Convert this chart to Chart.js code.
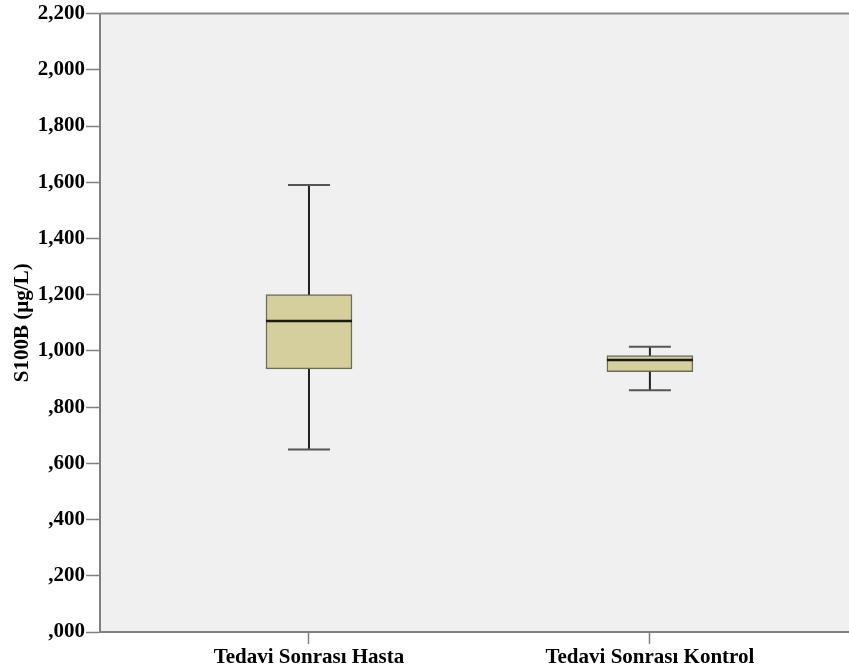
<!DOCTYPE html>
<html>
<head>
<meta charset="utf-8">
<script src="https://cdn.jsdelivr.net/npm/chart.js@4"></script>
<style>
  body { margin: 0; background: #fff; }
  #wrap { width: 849px; height: 671px; }
</style>
</head>
<body>
<div id="wrap"><canvas id="myChart"></canvas></div>
<script>
const categories = ['Tedavi Sonrası Hasta', 'Tedavi Sonrası Kontrol'];
const mins = [0.649, 0.860];
const q1s = [0.936, 0.926];
const medians = [1.106, 0.968];
const q3s = [1.200, 0.983];
const maxs = [1.590, 1.015];
const yTicks = [0, 0.2, 0.4, 0.6, 0.8, 1.0, 1.2, 1.4, 1.6, 1.8, 2.0, 2.2];

const serif = '"Liberation Serif", "Times New Roman", serif';

// ",200" / "1,000" style labels
function fmt(v) {
  let s = v.toFixed(3).replace('.', ',');
  if (s.startsWith('0')) s = s.slice(1);
  return s;
}

// background, top border, whiskers and medians
const boxPlot = {
  id: 'boxPlot',
  beforeDraw(chart) {
    const { ctx, chartArea: a } = chart;
    ctx.save();
    ctx.fillStyle = '#f0f0f0';
    ctx.fillRect(a.left, a.top, a.right - a.left, a.bottom - a.top);
    ctx.restore();
  },
  afterDatasetsDraw(chart) {
    const { ctx, chartArea: a } = chart;
    const xs = chart.scales.x, ys = chart.scales.y;
    ctx.save();
    ctx.strokeStyle = '#8a8a8a';
    ctx.lineWidth = 2;
    ctx.beginPath();
    ctx.moveTo(a.left, a.top);
    ctx.lineTo(a.right, a.top);
    ctx.stroke();

    categories.forEach((c, i) => {
      const x = xs.getPixelForValue(i);
      const yMin = ys.getPixelForValue(mins[i]);
      const yMax = ys.getPixelForValue(maxs[i]);
      const yQ1 = ys.getPixelForValue(q1s[i]);
      const yQ3 = ys.getPixelForValue(q3s[i]);
      const yMed = ys.getPixelForValue(medians[i]);

      ctx.strokeStyle = '#222';
      ctx.lineWidth = 2;
      ctx.beginPath();
      ctx.moveTo(x, yMax); ctx.lineTo(x, yQ3);
      ctx.moveTo(x, yQ1); ctx.lineTo(x, yMin);
      ctx.stroke();

      ctx.strokeStyle = '#555';
      ctx.beginPath();
      ctx.moveTo(x - 21, yMax); ctx.lineTo(x + 21, yMax);
      ctx.moveTo(x - 21, yMin); ctx.lineTo(x + 21, yMin);
      ctx.stroke();

      ctx.strokeStyle = '#1a1a1a';
      ctx.lineWidth = 2.5;
      ctx.beginPath();
      ctx.moveTo(x - 43, yMed); ctx.lineTo(x + 43, yMed);
      ctx.stroke();
    });
    ctx.restore();
  }
};

const ctx = document.getElementById('myChart');

new Chart(ctx, {
  type: 'bar',
  data: {
    datasets: [{
      data: categories.map((c, i) => ({ x: i, y: [q1s[i], q3s[i]] })),
      backgroundColor: '#d4cf9c',
      borderColor: '#6e6c58',
      borderWidth: 1.5,
      borderSkipped: false,
      barThickness: 86
    }]
  },
  options: {
    responsive: true,
    maintainAspectRatio: false,
    animation: false,
    layout: { padding: { top: 13, right: 0, left: 0, bottom: 0 } },
    plugins: {
      legend: { display: false },
      tooltip: { enabled: false }
    },
    scales: {
      x: {
        type: 'linear',
        offset: false,
        min: -0.613,
        max: 1.584,
        afterBuildTicks: scale => {
          scale.ticks = categories.map((c, i) => ({ value: i }));
        },
        afterFit: scale => { scale.height = 39; },
        border: { color: '#808080', width: 2 },
        grid: {
          offset: false,
          drawOnChartArea: false,
          drawTicks: true,
          tickLength: 12,
          tickColor: '#808080',
          tickWidth: 1.5
        },
        ticks: {
          padding: 1,
          maxRotation: 0,
          autoSkip: false,
          color: '#000',
          font: { family: serif, size: 21, weight: 'bold' },
          callback: v => categories[v] ?? ''
        }
      },
      y: {
        min: 0,
        max: 2.2,
        afterBuildTicks: scale => {
          scale.ticks = yTicks.map(v => ({ value: v }));
        },
        afterFit: scale => { scale.width = 100; },
        border: { color: '#808080', width: 2 },
        grid: {
          drawOnChartArea: false,
          drawTicks: true,
          tickLength: 14,
          tickColor: '#808080',
          tickWidth: 1.5
        },
        ticks: {
          padding: 1,
          color: '#000',
          font: { family: serif, size: 21, weight: 'bold' },
          callback: v => fmt(v)
        },
        title: {
          display: true,
          text: 'S100B (µg/L)',
          color: '#000',
          padding: { top: 10, bottom: 0 },
          font: { family: serif, size: 21, weight: 'bold' }
        }
      }
    }
  },
  plugins: [boxPlot]
});
</script>
</body>
</html>
